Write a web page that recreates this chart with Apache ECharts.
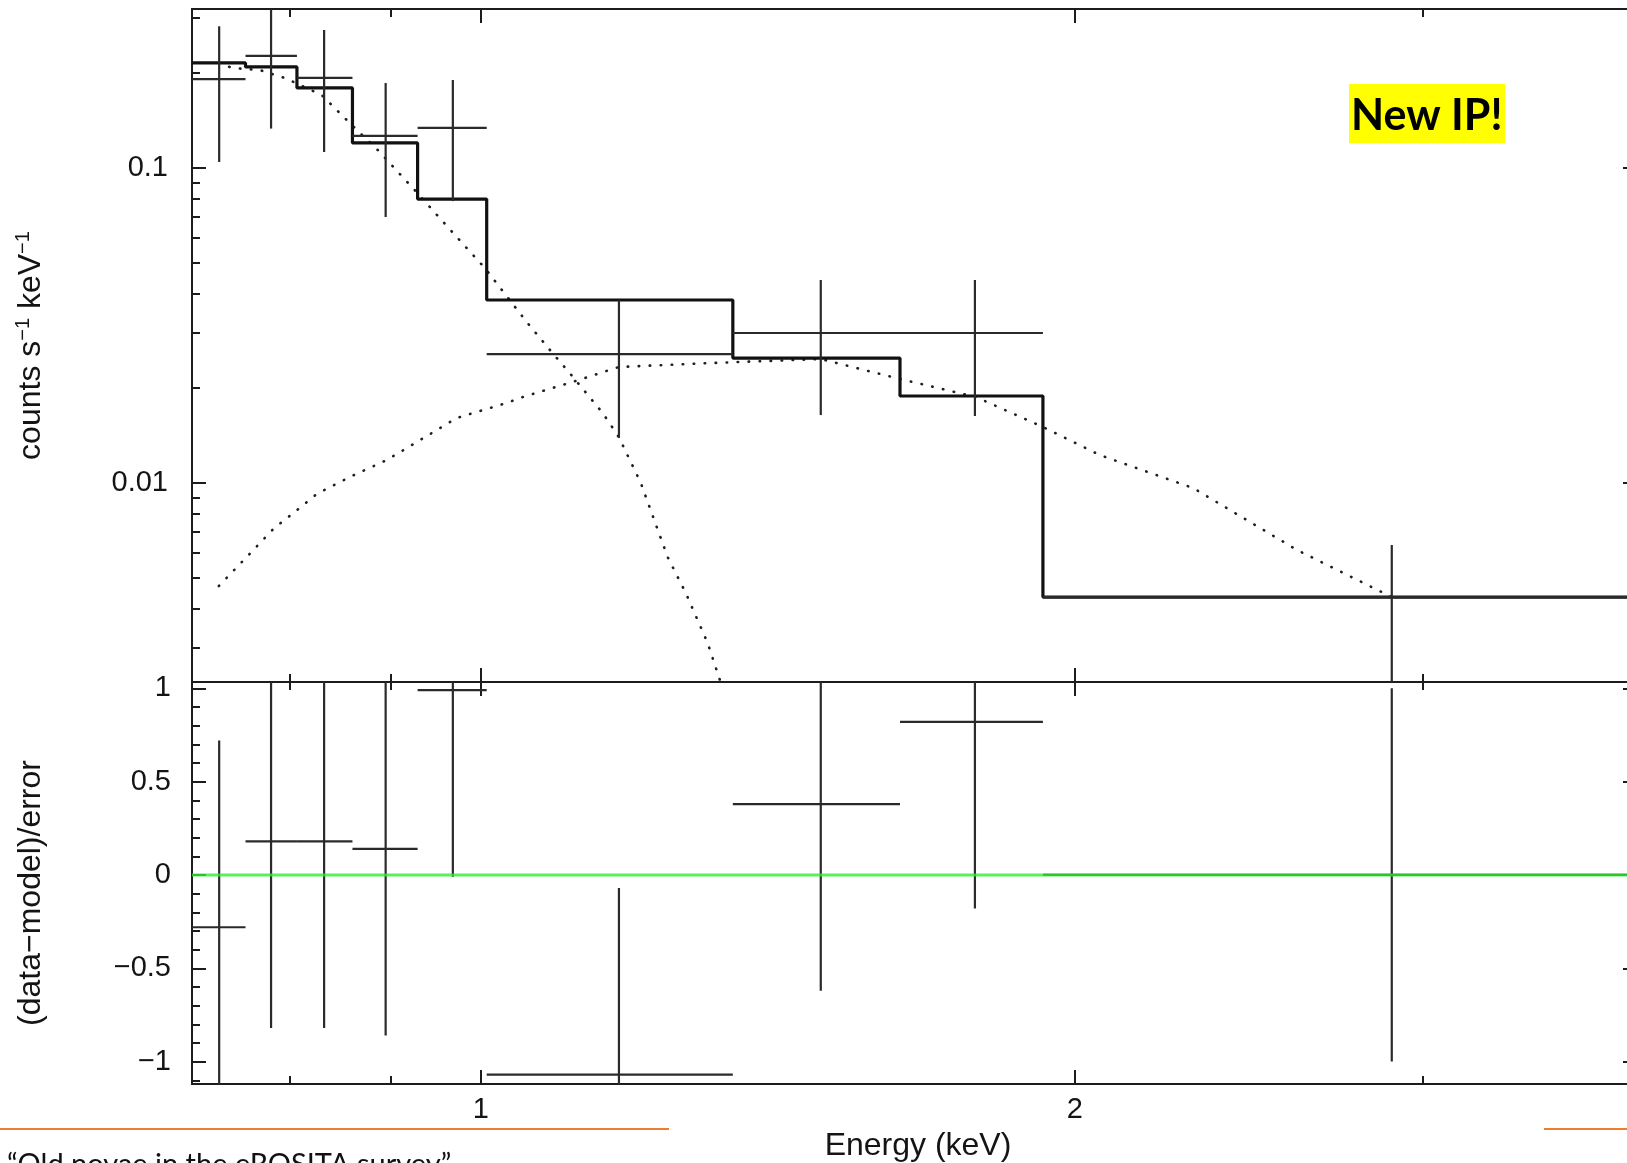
<!DOCTYPE html>
<html>
<head>
<meta charset="utf-8">
<title>Energy spectrum and residuals</title>
<script src="https://cdn.jsdelivr.net/npm/echarts@6/dist/echarts.min.js"></script>
<style>
  html, body { margin: 0; padding: 0; background: #ffffff; }
  #chart { width: 1627px; height: 1163px; }
</style>
</head>
<body>
<div id="chart"></div>
<script>
// ---- spectral bins (keV) ----
const binLo = [0.714, 0.760, 0.807, 0.861, 0.929, 1.007, 1.342, 1.631, 1.927];
const binHi = [0.760, 0.807, 0.861, 0.929, 1.007, 1.342, 1.631, 1.927, 4.35];
const binMid = [0.737, 0.783, 0.833, 0.895, 0.968, 1.175, 1.487, 1.780, 2.895];

// ---- measured count rate (counts s^-1 keV^-1) with error limits ----
const rate   = [0.1916, 0.2268, 0.1931, 0.1264, 0.1340, 0.02567, 0.02994, 0.02994, 0.004345];
const rateLo = [0.1045, 0.1334, 0.1124, 0.0699, 0.0785, 0.0139, 0.01643, 0.01632, 0.0022];
const rateHi = [0.2818, 0.3200, 0.2742, 0.1861, 0.1903, 0.0381, 0.0441, 0.0441, 0.006357];

// ---- folded total model, one level per bin ----
const modelRate = [0.2155, 0.2093, 0.1795, 0.1201, 0.0797, 0.0381, 0.02493, 0.01889, 0.004345];

// ---- model components (dotted curves) ----
const softE = [0.7367, 0.7485, 0.7727, 0.7956, 0.8306, 0.8582, 0.8867, 0.9258, 0.9434, 0.9838, 1.0047,
               1.0551, 1.0863, 1.1094, 1.153, 1.1748, 1.2054, 1.2437, 1.2703, 1.3031, 1.3229, 1.337];
const softRate = [0.2155, 0.2077, 0.2046, 0.1931, 0.1705, 0.1390, 0.1141, 0.0851, 0.0746, 0.0557, 0.0482,
                  0.03245, 0.02605, 0.02234, 0.01668, 0.0140, 0.0100, 0.00582, 0.004474, 0.003105, 0.002335, 0.00197];
const hardE = [0.7367, 0.761, 0.786, 0.8049, 0.8259, 0.8603, 0.8962, 0.9335, 0.9723, 1.0308, 1.0466,
               1.1213, 1.1748, 1.3095, 1.487, 1.631, 1.782, 1.927, 2.059, 2.296, 2.592, 2.895];
const hardRate = [0.00471, 0.00582, 0.0072, 0.00809, 0.00923, 0.01052, 0.01183, 0.01379, 0.01608, 0.01795, 0.01862,
                  0.02123, 0.02335, 0.02404, 0.02475, 0.02139, 0.01875, 0.01506, 0.01227, 0.00964, 0.00613, 0.004345];

// ---- residuals (data-model)/error ----
const resid    = [-0.28, 0.18, 0.18, 0.14, 0.99, -1.07, 0.38, 0.82, 0.0];
const residErr = [1, 1, 1, 1, 1, 1, 1, 1, 1];
const residModel = [0, 0];   // zero level across the full energy band

// ---- axis ranges and ticks ----
const energyRange = [0.714, 3.854];
const rateRange = [0.002335, 0.3197];
const residRange = [-1.12, 1.034];

const energyMajor = [1, 2];
const energyMinor = [0.8, 0.9, 3];
const rateMajor = [0.01, 0.1];
const rateMinor = [0.003, 0.004, 0.005, 0.006, 0.007, 0.008, 0.009,
                   0.02, 0.03, 0.04, 0.05, 0.06, 0.07, 0.08, 0.09, 0.2, 0.3];
const residMajor = [-1, -0.5, 0, 0.5, 1];
const residMinor = [-1.1, -0.9, -0.8, -0.7, -0.6, -0.4, -0.3, -0.2, -0.1,
                    0.1, 0.2, 0.3, 0.4, 0.6, 0.7, 0.8, 0.9];

// ---- styling ----
const INK = '#1c1c1c';
const BAR = '#2a2a2a';
const SANS = '"Liberation Sans", Arial, Helvetica, sans-serif';
const MAJOR_LEN = 14;
const MINOR_LEN = 8;

function fmt(v) {
  return String(Number(Number(v).toPrecision(6))).replace('-', '\u2212');
}

function frameAxis(gridIndex, position, type, range, ticks, len, label) {
  const ax = {
    gridIndex: gridIndex,
    position: position,
    type: type,
    min: range[0],
    max: range[1],
    axisLine: { show: false, onZero: false },
    splitLine: { show: false },
    minorTick: { show: false },
    axisTick: {
      show: true, inside: true, length: len, customValues: ticks,
      lineStyle: { color: INK, width: 2 }
    },
    axisLabel: { show: false }
  };
  if (type === 'log') ax.logBase = 10;
  if (label) {
    ax.axisLabel = {
      show: true, customValues: ticks, formatter: fmt,
      fontFamily: SANS, fontSize: 29, color: '#141414', margin: label.margin
    };
  }
  return ax;
}

// x axes: 0-3 spectrum panel, 4-7 residual panel
const xAxes = [
  frameAxis(0, 'bottom', 'log', energyRange, energyMajor, MAJOR_LEN),
  frameAxis(0, 'bottom', 'log', energyRange, energyMinor, MINOR_LEN),
  frameAxis(0, 'top', 'log', energyRange, energyMajor, MAJOR_LEN),
  frameAxis(0, 'top', 'log', energyRange, energyMinor, MINOR_LEN),
  frameAxis(1, 'bottom', 'log', energyRange, energyMajor, MAJOR_LEN, { margin: 11 }),
  frameAxis(1, 'bottom', 'log', energyRange, energyMinor, MINOR_LEN),
  frameAxis(1, 'top', 'log', energyRange, energyMajor, MAJOR_LEN),
  frameAxis(1, 'top', 'log', energyRange, energyMinor, MINOR_LEN)
];

// y axes: 0-3 spectrum panel, 4-7 residual panel
const yAxes = [
  frameAxis(0, 'left', 'log', rateRange, rateMajor, MAJOR_LEN, { margin: 24 }),
  frameAxis(0, 'left', 'log', rateRange, rateMinor, MINOR_LEN),
  frameAxis(0, 'right', 'log', rateRange, rateMajor, MAJOR_LEN),
  frameAxis(0, 'right', 'log', rateRange, rateMinor, MINOR_LEN),
  frameAxis(1, 'left', 'value', residRange, residMajor, MAJOR_LEN, { margin: 21 }),
  frameAxis(1, 'left', 'value', residRange, residMinor, MINOR_LEN),
  frameAxis(1, 'right', 'value', residRange, residMajor, MAJOR_LEN),
  frameAxis(1, 'right', 'value', residRange, residMinor, MINOR_LEN)
];
Object.assign(yAxes[0], {
  name: '{a|counts s}{s|\u22121}{a| keV}{s|\u22121}',
  nameLocation: 'middle', nameGap: 143, nameRotate: 90,
  nameTextStyle: {
    rich: {
      a: { fontFamily: SANS, fontSize: 32, lineHeight: 36, color: '#141414', verticalAlign: 'middle' },
      s: { fontFamily: SANS, fontSize: 20, lineHeight: 20, color: '#141414', verticalAlign: 'top' }
    }
  }
});
Object.assign(yAxes[4], {
  name: '(data\u2212model)/error',
  nameLocation: 'middle', nameGap: 143, nameRotate: 90,
  nameTextStyle: { fontFamily: SANS, fontSize: 32, lineHeight: 36, color: '#141414', padding: [0, 20, 0, 0] }
});

// step outline of the folded model
const modelSteps = [];
binLo.forEach(function (lo, i) {
  modelSteps.push([lo, modelRate[i]]);
  modelSteps.push([binHi[i], modelRate[i]]);
});

const spectrumRows = binLo.map(function (lo, i) {
  return [lo, binHi[i], binMid[i], rate[i], rateLo[i], rateHi[i]];
});
const residRows = binLo.map(function (lo, i) {
  return [lo, binHi[i], binMid[i], resid[i], resid[i] - residErr[i], resid[i] + residErr[i]];
});

function crossItem(params, api) {
  const left = api.coord([api.value(0), api.value(3)]);
  const right = api.coord([api.value(1), api.value(3)]);
  const top = api.coord([api.value(2), api.value(5)]);
  const bottom = api.coord([api.value(2), api.value(4)]);
  const style = { stroke: BAR, lineWidth: 2.2, fill: null };
  return {
    type: 'group',
    children: [
      { type: 'line', shape: { x1: left[0], y1: left[1], x2: right[0], y2: right[1] }, style: style },
      { type: 'line', shape: { x1: top[0], y1: top[1], x2: bottom[0], y2: bottom[1] }, style: style }
    ]
  };
}

const dotted = { color: '#1e1e1e', width: 2.6, type: [0.5, 10.5], cap: 'round' };

const chart = echarts.init(document.getElementById('chart'), null, { renderer: 'canvas' });
chart.setOption({
  animation: false,
  backgroundColor: '#ffffff',
  grid: [
    { left: 192, right: -10, top: 9, height: 673, show: true, borderColor: INK, borderWidth: 2,
      backgroundColor: 'transparent', outerBoundsMode: 'none' },
    { left: 192, right: -10, top: 682, height: 402, show: true, borderColor: INK, borderWidth: 2,
      backgroundColor: 'transparent', outerBoundsMode: 'none' }
  ],
  xAxis: xAxes,
  yAxis: yAxes,
  series: [
    {
      name: 'soft component', type: 'line', xAxisIndex: 0, yAxisIndex: 0,
      data: softE.map(function (e, i) { return [e, softRate[i]]; }),
      symbol: 'none', lineStyle: dotted, z: 2, clip: true
    },
    {
      name: 'hard component', type: 'line', xAxisIndex: 0, yAxisIndex: 0,
      data: hardE.map(function (e, i) { return [e, hardRate[i]]; }),
      symbol: 'none', lineStyle: dotted, z: 2, clip: true
    },
    {
      name: 'model', type: 'line', xAxisIndex: 0, yAxisIndex: 0,
      data: modelSteps, symbol: 'none',
      lineStyle: { color: '#111111', width: 3.2 }, z: 3, clip: true
    },
    {
      name: 'data', type: 'custom', xAxisIndex: 0, yAxisIndex: 0,
      data: spectrumRows, renderItem: crossItem, clip: true, z: 4,
      encode: { x: [0, 1, 2], y: [3, 4, 5] }
    },
    {
      name: 'residuals', type: 'custom', xAxisIndex: 4, yAxisIndex: 4,
      data: residRows, renderItem: crossItem, clip: true, z: 4,
      encode: { x: [0, 1, 2], y: [3, 4, 5] }
    },
    {
      name: 'zero level', type: 'line', xAxisIndex: 4, yAxisIndex: 4,
      data: [[binLo[0], residModel[0]], [binHi[binHi.length - 1], residModel[1]]],
      symbol: 'none', lineStyle: { color: '#33ea33', width: 3, opacity: 0.8 }, z: 5, clip: true
    }
  ],
  graphic: [
    // energy axis title, centred under the residual panel
    { type: 'text', x: 918, y: 1130,
      style: { text: 'Energy (keV)', fontFamily: SANS, fontSize: 32, fill: '#141414',
               align: 'center', verticalAlign: 'top' } },
    { type: 'rect', shape: { x: 1349, y: 84, width: 156, height: 59 }, style: { fill: '#ffff00' }, z: 10 },
    { type: 'text', x: 1351, y: 116, z: 11,
      style: { text: 'New IP!', fontFamily: 'Lato', fontWeight: 'bold', fontSize: 43, fill: '#000000',
               verticalAlign: 'middle', align: 'left' } },
    { type: 'line', shape: { x1: 0, y1: 1129, x2: 669, y2: 1129 }, style: { stroke: '#ed7d31', lineWidth: 2 } },
    { type: 'line', shape: { x1: 1544, y1: 1129, x2: 1627, y2: 1129 }, style: { stroke: '#ed7d31', lineWidth: 2 } },
    { type: 'text', x: 7, y: 1150,
      style: { text: '\u201cOld novae in the eROSITA survey\u201d', fontFamily: 'Lato', fontSize: 29,
               fill: '#111111', verticalAlign: 'top', align: 'left' } }
  ]
});
</script>
</body>
</html>
